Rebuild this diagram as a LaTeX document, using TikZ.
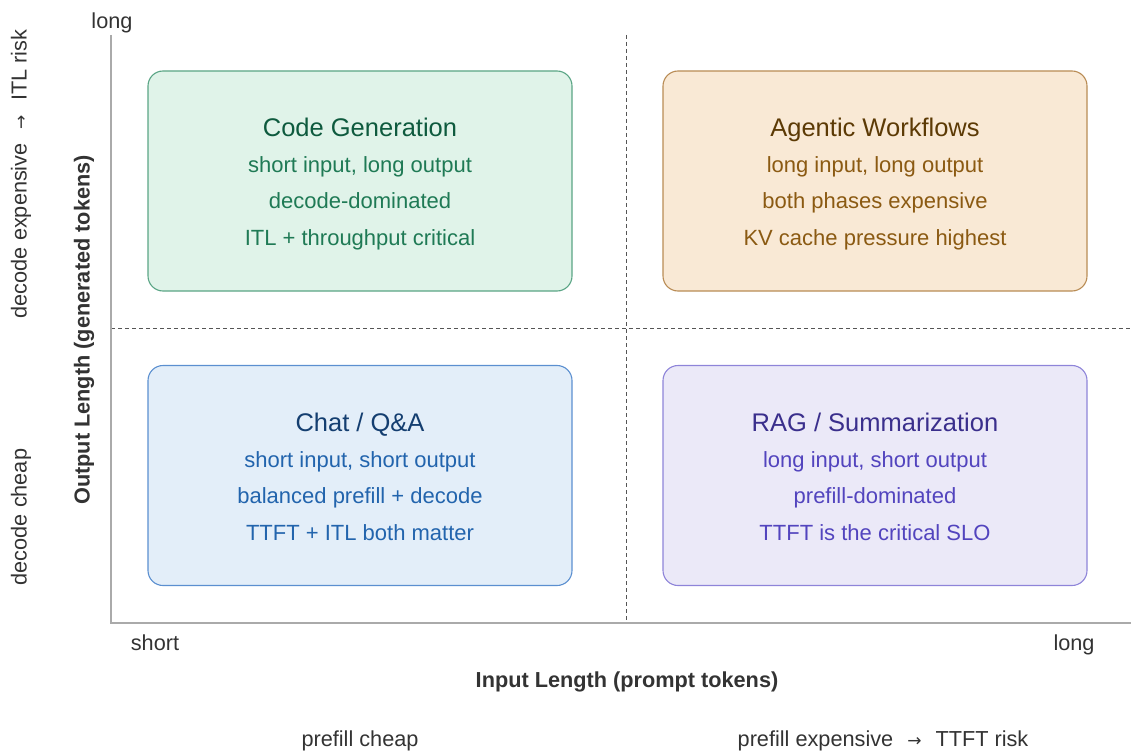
\documentclass[tikz,border=0pt]{standalone}
\usepackage{fontspec}
\setmainfont{Liberation Sans}
\newfontfamily\arrowfont{DejaVu Sans}
\definecolor{cgFill}{HTML}{E0F3E9}\definecolor{cgLine}{HTML}{5AA585}
\definecolor{cgTitle}{HTML}{0E5A3E}\definecolor{cgText}{HTML}{1F7A55}
\definecolor{agFill}{HTML}{F9E9D5}\definecolor{agLine}{HTML}{B98C55}
\definecolor{agTitle}{HTML}{5C3A05}\definecolor{agText}{HTML}{8B5A12}
\definecolor{chFill}{HTML}{E3EEF9}\definecolor{chLine}{HTML}{5B8FD0}
\definecolor{chTitle}{HTML}{143E70}\definecolor{chText}{HTML}{2264AD}
\definecolor{rgFill}{HTML}{EBE9F8}\definecolor{rgLine}{HTML}{8E84D9}
\definecolor{rgTitle}{HTML}{3A2F8C}\definecolor{rgText}{HTML}{5244BE}
\definecolor{axisGray}{HTML}{AAAAAA}
\definecolor{dashGray}{HTML}{555555}
\definecolor{labelGray}{HTML}{333333}
\newcommand\quadrant[8]{%
  \node[quadbox, draw=#4Line, fill=#4Fill] (#1) at (#2,#3+110) {};
  \node[titletext, text=#4Title] (#1-t) at (#2,#3+65.5) {#5};
  \node[bodytext, text=#4Text] (#1-a) at (#2,#3+101.5) {#6};
  \node[bodytext, text=#4Text] (#1-b) at (#2,#3+138) {#7};
  \node[bodytext, text=#4Text] (#1-c) at (#2,#3+174.5) {#8};
}
\newcommand\rarr{\hspace{14pt}{\arrowfont\fontsize{17}{20}\selectfont →}\hspace{14pt}}
\begin{document}
\begin{tikzpicture}[x=1pt,y=-1pt,
  quadbox/.style={rounded corners=15pt, line width=1.1pt, minimum width=424pt, minimum height=220pt, inner sep=0pt},
  titletext/.style={anchor=base, inner sep=0pt, font=\fontsize{25.5}{30}\selectfont},
  bodytext/.style={anchor=base, inner sep=0pt, font=\fontsize{22}{26}\selectfont},
  axislabel/.style={inner sep=0pt, text=labelGray, font=\fontsize{21.7}{26}\selectfont},
  axistitle/.style={inner sep=0pt, text=labelGray, font=\fontsize{21.7}{26}\selectfont\bfseries},
  axisline/.style={draw=axisGray, line width=1.3pt},
  divider/.style={draw=dashGray, line width=0.9pt, dash pattern=on 4pt off 3pt}]
\useasboundingbox (0,0) rectangle (1131,751);
% axes
\coordinate (axtop) at (111,35);
\coordinate (origin) at (111,623);
\coordinate (axright) at (1131,623);
\coordinate (vtop) at (626,35);
\coordinate (vbot) at (626,623);
\coordinate (hleft) at (111,328);
\coordinate (hright) at (1131,328);
\draw[divider] (vtop) -- (vbot);
\draw[divider] (hleft) -- (hright);
\draw[axisline] (axtop) -- (origin) -- (axright);
% quadrants
\quadrant{code}{360}{71}{cg}{Code Generation}{short input, long output}{decode-dominated}{ITL + throughput critical}
\quadrant{agent}{875}{71}{ag}{Agentic Workflows}{long input, long output}{both phases expensive}{KV cache pressure highest}
\quadrant{chat}{360}{365.5}{ch}{Chat / Q\&A}{short input, short output}{balanced prefill + decode}{TTFT + ITL both matter}
\quadrant{rag}{875}{365.5}{rg}{RAG / Summarization}{long input, short output}{prefill-dominated}{TTFT is the critical SLO}
% axis labels
\node[axislabel, anchor=base] (ylong) at (112,29) {long};
\node[axislabel, anchor=base] (xshort) at (155,650) {short};
\node[axislabel, anchor=base] (xlong) at (1074,650) {long};
\node[axistitle, anchor=base] (xtitle) at (627,687) {Input Length (prompt tokens)};
\node[axistitle, rotate=90] (ytitle) at (84,330) {Output Length (generated tokens)};
\node[axislabel, anchor=base] (pcheap) at (360,746) {prefill cheap};
\node[axislabel, anchor=base] (pexp) at (883,746) {prefill expensive\rarr TTFT risk};
\node[axislabel, rotate=90] (dexp) at (21,174) {decode expensive\rarr ITL risk};
\node[axislabel, rotate=90] (dcheap) at (21,517) {decode cheap};
\end{tikzpicture}
\end{document}
